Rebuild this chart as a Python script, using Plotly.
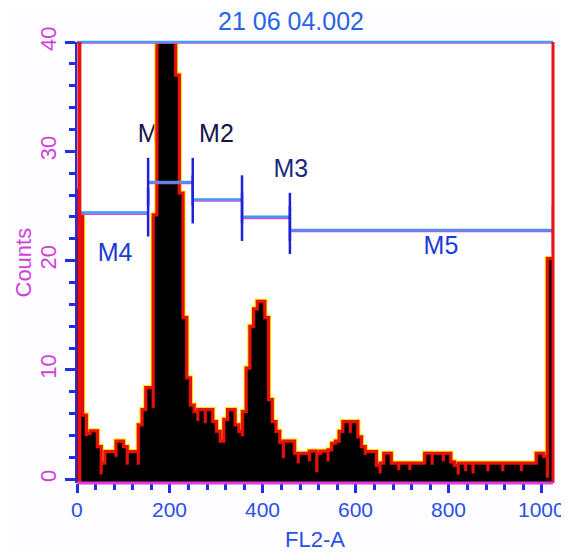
import plotly.graph_objects as go

# ---- data ----
BIN_WIDTH = 8
counts = [24, 5.7, 3.9, 4.0, 4.25, 2.8, 0.4, 1.3, 2.35, 2.35, 2.0, 3.3, 2.8, 1.3, 2.35, 2.35,
          1.3, 4.8, 6.2, 8.2, 6.5, 24, 45, 60, 55, 42, 36.8, 26, 14.6, 9.1, 6.6, 6.0,
          5.3, 6.2, 5.1, 6.2, 5.1, 4.2, 3.3, 3.3, 5.3, 6.2, 4.8, 4.2, 3.9, 6.0, 10.0, 13.8,
          15.4, 16.1, 14.6, 7.1, 5.1, 4.2, 3.2, 1.9, 3.3, 3.3, 2.2, 1.4, 2.2, 2.2, 1.6, 2.4,
          0.6, 2.2, 2.4, 1.6, 2.5, 3.1, 3.3, 4.2, 5.1, 4.2, 5.1, 3.7, 2.8, 2.2, 2.35, 2.35,
          1.1, 0.5, 1.3, 2.2, 1.3, 1.3, 0.8, 1.3, 1.3, 0.8, 1.3, 1.3, 1.3, 1.3, 2.2, 1.3,
          2.2, 2.2, 1.6, 2.2, 1.4, 1.1, 0.4, 1.3, 0.7, 1.3, 0.5, 1.3, 1.3, 1.3, 0.7, 1.3,
          1.3, 1.3, 0.7, 1.3, 1.3, 1.3, 1.3, 0.7, 1.3, 1.3, 1.3, 1.3, 2.2, 1.9, 0.1, 20]

gate_names = ["M4", "M1", "M2", "M3", "M5"]
gate_start = [0, 153, 249, 355, 458]
gate_end = [153, 249, 355, 458, 1024]
gate_level = [24.4, 27.2, 25.6, 24.0, 22.8]

label_text = ["M4", "M1", "M2", "M3", "M5"]
label_x = [82, 168, 300, 460, 783]
label_y = [20.5, 31.4, 31.4, 28.2, 21.2]
label_color = ["#2038d8", "#15154a", "#15154a", "#1a2a80", "#2038d8"]

x_ticks = [0, 200, 400, 600, 800, 1000]
y_ticks = [0, 10, 20, 30, 40]
title_text = "21 06 04.002"
x_title = "FL2-A"
y_title = "Counts"

X_MAX = 1024
Y_MIN, Y_MAX = -0.35, 40

# ---- build ----
edges = [i * BIN_WIDTH for i in range(len(counts))] + [len(counts) * BIN_WIDTH]
step_y = counts + [counts[-1]]

FONT = "Liberation Sans, Arial, sans-serif"
XCOL = "#2a50e6"
YCOL = "#d040d8"
fig = go.Figure()

# gate labels (drawn first so the peak hides part of "M1")
fig.add_trace(go.Scatter(x=label_x, y=label_y, mode="text", text=label_text,
                         textfont=dict(family=FONT, size=25, color=label_color),
                         hoverinfo="skip", showlegend=False))

# yellow + red fringe
fig.add_trace(go.Scatter(x=edges, y=step_y, mode="lines", line=dict(shape="hv", color="#ffe800", width=9),
                         hoverinfo="skip", showlegend=False))
fig.add_trace(go.Scatter(x=edges, y=step_y, mode="lines", line=dict(shape="hv", color="#e8100c", width=7),
                         hoverinfo="skip", showlegend=False))
# baseline for the fill
fig.add_trace(go.Scatter(x=[0, X_MAX], y=[Y_MIN, Y_MIN], mode="lines",
                         line=dict(width=0, color="black"), hoverinfo="skip", showlegend=False))
# black filled histogram
fig.add_trace(go.Scatter(x=edges, y=step_y, mode="lines", fill="tonexty", fillcolor="black",
                         line=dict(shape="hv", color="black", width=0.5),
                         hoverinfo="skip", showlegend=False))

shapes = []
TICK_HALF = 2.2
for s, e, lv in zip(gate_start, gate_end, gate_level):
    shapes.append(dict(type="line", xref="x", yref="y", x0=s, x1=e, y0=lv - 0.15, y1=lv - 0.15,
                       line=dict(color="#e040e0", width=1.5)))
    shapes.append(dict(type="line", xref="x", yref="y", x0=s, x1=e, y0=lv, y1=lv,
                       line=dict(color="#3a9cf0", width=2.5)))
    for xe in (s, e):
        shapes.append(dict(type="line", xref="x", yref="y", x0=xe, x1=xe,
                           y0=lv - TICK_HALF, y1=lv + TICK_HALF,
                           line=dict(color="#2020d8", width=2.5)))

# frame
shapes += [
    dict(type="line", xref="paper", yref="paper", x0=0, x1=1, y0=1, y1=1, line=dict(color="#3aa4f0", width=2.5)),
    dict(type="line", xref="paper", yref="paper", x0=0, x1=1, y0=0.997, y1=0.997, line=dict(color="#e050e0", width=1)),
    dict(type="line", xref="paper", yref="paper", x0=0.005, x1=0.005, y0=0, y1=1, line=dict(color="#ee1010", width=4)),
    dict(type="line", xref="paper", yref="paper", x0=1, x1=1, y0=0, y1=1, line=dict(color="#ee1010", width=3)),
    dict(type="line", xref="paper", yref="paper", x0=0, x1=1, y0=0, y1=0, line=dict(color="#e03ae0", width=3)),
]

annotations = [dict(text=title_text, xref="paper", yref="paper", x=0.45, y=1.0, yshift=5,
                    xanchor="center", yanchor="bottom", showarrow=False,
                    font=dict(family=FONT, size=25, color="#2a64e6"))]
for v in x_ticks:
    annotations.append(dict(text=str(v), xref="x", yref="paper", x=v, y=0, yshift=-26,
                            xanchor="center", yanchor="middle", showarrow=False,
                            font=dict(family=FONT, size=21, color=XCOL)))
annotations.append(dict(text=x_title, xref="paper", yref="paper", x=0.5, y=0, yshift=-56,
                        xanchor="center", yanchor="middle", showarrow=False,
                        font=dict(family=FONT, size=22, color=XCOL)))
annotations.append(dict(text=y_title, xref="paper", yref="paper", x=0, y=0.5, xshift=-54,
                        xanchor="center", yanchor="middle", textangle=-90, showarrow=False,
                        font=dict(family=FONT, size=22, color=YCOL)))

fig.update_layout(
    width=561, height=544,
    margin=dict(l=69, r=16, t=34, b=69),
    paper_bgcolor="#fdfdff", plot_bgcolor="white",
    shapes=shapes,
    annotations=annotations,
    showlegend=False,
    xaxis=dict(range=[0, X_MAX], tickmode="array", tickvals=x_ticks, showticklabels=False,
               automargin=False,
               showgrid=False, zeroline=False, showline=False,
               ticks="outside", ticklen=9, tickwidth=2.5, tickcolor="#2030e0",
               minor=dict(tickmode="linear", tick0=0, dtick=40, ticks="outside", ticklen=6,
                          tickwidth=2.5, tickcolor="#2030e0", showgrid=False)),
    yaxis=dict(range=[Y_MIN, Y_MAX], tickmode="array", tickvals=y_ticks, ticktext=[str(v) for v in y_ticks],
               automargin=False, ticklabelstandoff=0,
               showgrid=False, zeroline=False, showline=True, linecolor="#2030e0", linewidth=2,
               ticks="outside", ticklen=10, tickwidth=2.5, tickcolor="#2030e0", tickangle=-90,
               minor=dict(tickmode="linear", tick0=0, dtick=2, ticks="outside", ticklen=6,
                          tickwidth=2.5, tickcolor="#2030e0", showgrid=False),
               tickfont=dict(family=FONT, size=22, color=YCOL)),
)

fig.write_html("out.html")
